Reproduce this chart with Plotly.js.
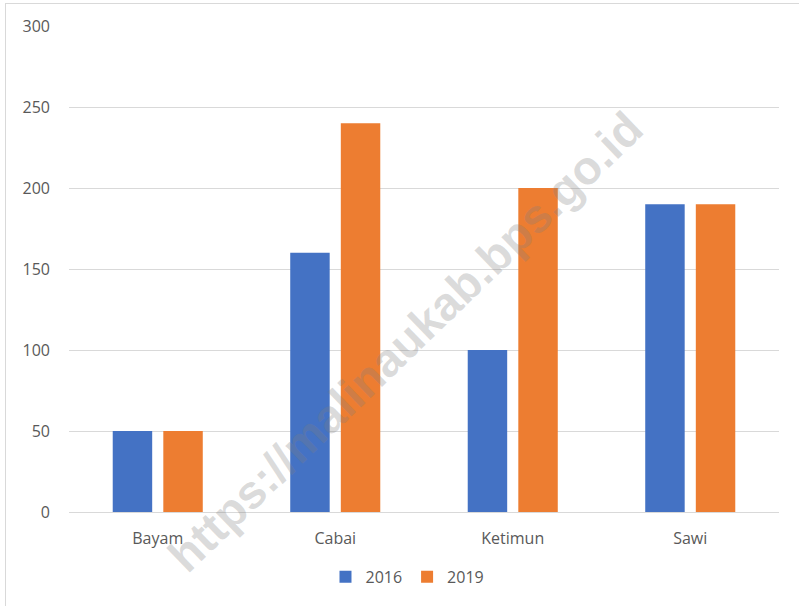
<!DOCTYPE html>
<html>
<head>
<meta charset="utf-8">
<script src="https://cdn.plot.ly/plotly-3.0.1.min.js"></script>
<style>
html,body{margin:0;padding:0;background:#fff;}
#frame{position:absolute;left:5px;top:3px;width:820px;height:640px;border:1px solid #d9d9d9;box-sizing:border-box;}
#chart{position:absolute;left:0;top:0;width:799px;height:606px;}
</style>
</head>
<body>
<div id="frame"></div>
<div id="chart"></div>
<script>
const categories = ["Bayam", "Cabai", "Ketimun", "Sawi"];
const values2016 = [50, 160, 100, 190];
const values2019 = [50, 240, 200, 190];
const seriesNames = ["2016", "2019"];
const watermark = "https://malinaukab.bps.go.id";

const traces = [
  {type: "bar", name: seriesNames[0], x: categories, y: values2016,
   marker: {color: "#4472C4"}, hoverinfo: "x+y"},
  {type: "bar", name: seriesNames[1], x: categories, y: values2019,
   marker: {color: "#ED7D31"}, hoverinfo: "x+y"}
];

const layout = {
  width: 799, height: 606,
  paper_bgcolor: "rgba(0,0,0,0)", plot_bgcolor: "rgba(0,0,0,0)",
  margin: {l: 69, r: 20, t: 26, b: 94, autoexpand: false},
  barmode: "group", bargap: 0.43, bargroupgap: 0.22,
  font: {family: "Open Sans, sans-serif", size: 16, color: "#595959"},
  xaxis: {showgrid: false, showline: true, linecolor: "#d9d9d9", linewidth: 1,
          ticks: "", ticklabelstandoff: 12, automargin: false,
          tickfont: {size: 16, color: "#595959"}},
  yaxis: {range: [0, 300], dtick: 50, showgrid: true, gridcolor: "#d9d9d9",
          gridwidth: 1, zeroline: false, showline: false, ticks: "",
          ticklabelstandoff: 18, automargin: false,
          tickfont: {size: 16, color: "#595959"}},
  legend: {orientation: "h", x: 0.51, xanchor: "center", xref: "container",
           y: 0.048, yanchor: "middle", yref: "container",
           font: {size: 16, color: "#595959"}, itemwidth: 30},
  annotations: [{
    text: watermark, xref: "paper", yref: "paper", x: 0.474, y: 0.35,
    showarrow: false, textangle: -44,
    font: {family: "Liberation Sans, Arial, sans-serif", size: 47, color: "rgba(128,128,128,0.28)", weight: "bold"}
  }]
};

Plotly.newPlot("chart", traces, layout, {displayModeBar: false, staticPlot: true});
</script>
</body>
</html>
